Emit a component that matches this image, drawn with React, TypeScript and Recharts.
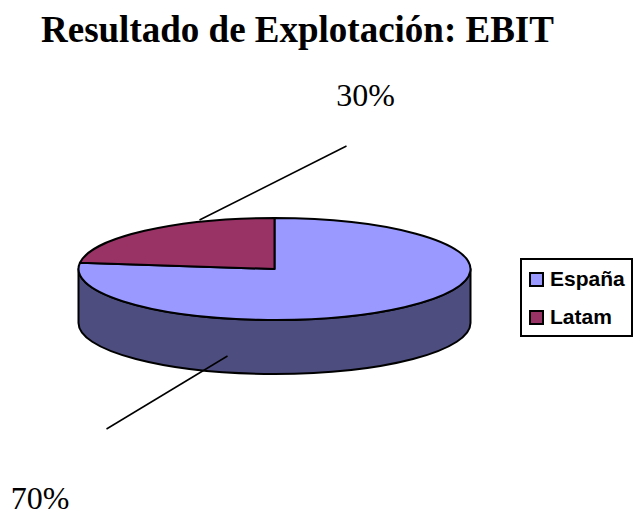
import { Cell, Legend, Pie, PieChart } from "recharts";

const regions = ["España", "Latam"];
const shares = [70, 30];
const topColors = ["#9999ff", "#993366"];
const wallColor = "#4d4d80";

const data = regions.map((name, i) => ({ name, value: shares[i] }));

const WIDTH = 634;
const HEIGHT = 512;
const TILT = 0.26; // ry / rx of the flattened disc
const DEPTH = 54;
const OUTLINE = "#000";

// the first slice starts where Latam has to end up: Latam runs from 12 o'clock to the left
const pieStart = 90 + (shares[1] / 100) * 360;
const pieEnd = pieStart + 360;

// the original 3D projection squeezes the back left slice, 90-198 is drawn as 90-173
const LATAM_DRAWN_END = 173;

const DiscSlice = (props: any) => {
  const { cx, cy, outerRadius, startAngle, fill } = props;
  const rx = outerRadius;
  const ry = outerRadius * TILT;
  const pt = (deg: number) => {
    const r = (deg * Math.PI) / 180;
    return [cx + rx * Math.cos(r), cy - ry * Math.sin(r)];
  };
  const isFirst = startAngle === pieStart;
  const from = isFirst ? LATAM_DRAWN_END : 90;
  const to = isFirst ? 450 : LATAM_DRAWN_END;
  const [sx, sy] = pt(from);
  const [ex, ey] = pt(to);
  const top = `M${cx},${cy} L${sx},${sy} A${rx},${ry} 0 ${to - from > 180 ? 1 : 0} 0 ${ex},${ey} Z`;
  const [lx, ly] = pt(180);
  const [wx, wy] = pt(360);
  const wall = `M${lx},${ly} A${rx},${ry} 0 0 0 ${wx},${wy} L${wx},${wy + DEPTH} A${rx},${ry} 0 0 1 ${lx},${ly + DEPTH} Z`;
  return (
    <g>
      {isFirst && <path d={wall} fill={wallColor} stroke={OUTLINE} strokeWidth={2} strokeLinejoin="round" />}
      <path d={top} fill={fill} stroke={OUTLINE} strokeWidth={2} strokeLinejoin="round" />
    </g>
  );
};

// leader line and text of each slice, relative to the pie centre
const labelPlacement: Record<string, { line: number[]; text: number[] }> = {
  Latam: { line: [-75, -49, 72, -123], text: [91, -163] },
  "España": { line: [-47, 87, -168, 160], text: [-234.5, 240] },
};

const renderLabel = (props: any) => {
  const { cx, cy, percent, name } = props;
  const place = labelPlacement[name];
  if (!place) return null;
  const [x1, y1, x2, y2] = place.line;
  return (
    <g>
      <line x1={cx + x1} y1={cy + y1} x2={cx + x2} y2={cy + y2} stroke={OUTLINE} strokeWidth={1.5} />
      <text
        x={cx + place.text[0]}
        y={cy + place.text[1]}
        textAnchor="middle"
        fontFamily="Liberation Serif"
        fontSize={32}
        fill="#000"
      >
        {`${Math.round(percent * 100)}%`}
      </text>
    </g>
  );
};

const renderLegend = (props: any) => (
  <div
    style={{
      boxSizing: "border-box",
      width: 113,
      height: 79,
      border: "2px solid #000",
      background: "#fff",
    }}
  >
    {(props.payload || []).map((entry: any) => (
      <div key={entry.value} style={{ display: "flex", alignItems: "center", height: 38, paddingLeft: 7 }}>
        <span
          style={{
            boxSizing: "border-box",
            width: 15,
            height: 15,
            marginRight: 6,
            background: entry.color,
            border: "2px solid #000",
          }}
        />
        <span style={{ fontFamily: "Liberation Sans", fontWeight: 700, fontSize: 21, color: "#000" }}>
          {entry.value}
        </span>
      </div>
    ))}
  </div>
);

export default function App() {
  return (
    <div style={{ position: "absolute", left: 0, top: 0, width: WIDTH, height: HEIGHT, background: "#fff" }}>
      <div
        style={{
          position: "absolute",
          left: 41,
          top: 9,
          fontFamily: "Liberation Serif",
          fontWeight: 700,
          fontSize: 37,
          lineHeight: "42px",
          whiteSpace: "nowrap",
          color: "#000",
        }}
      >
        Resultado de Explotación: EBIT
      </div>
      <PieChart width={WIDTH} height={HEIGHT} margin={{ top: 0, right: 0, bottom: 0, left: 0 }}>
        <Pie
          data={data}
          dataKey="value"
          nameKey="name"
          cx={274.5}
          cy={269}
          outerRadius={196}
          startAngle={pieStart}
          endAngle={pieEnd}
          stroke="none"
          shape={DiscSlice}
          label={renderLabel}
          labelLine={false}
          isAnimationActive={false}
        >
          {data.map((d, i) => (
            <Cell key={d.name} fill={topColors[i]} />
          ))}
        </Pie>
        <Legend
          content={renderLegend}
          wrapperStyle={{ position: "absolute", left: 520, top: 258, width: 113, height: 79 }}
        />
      </PieChart>
    </div>
  );
}
